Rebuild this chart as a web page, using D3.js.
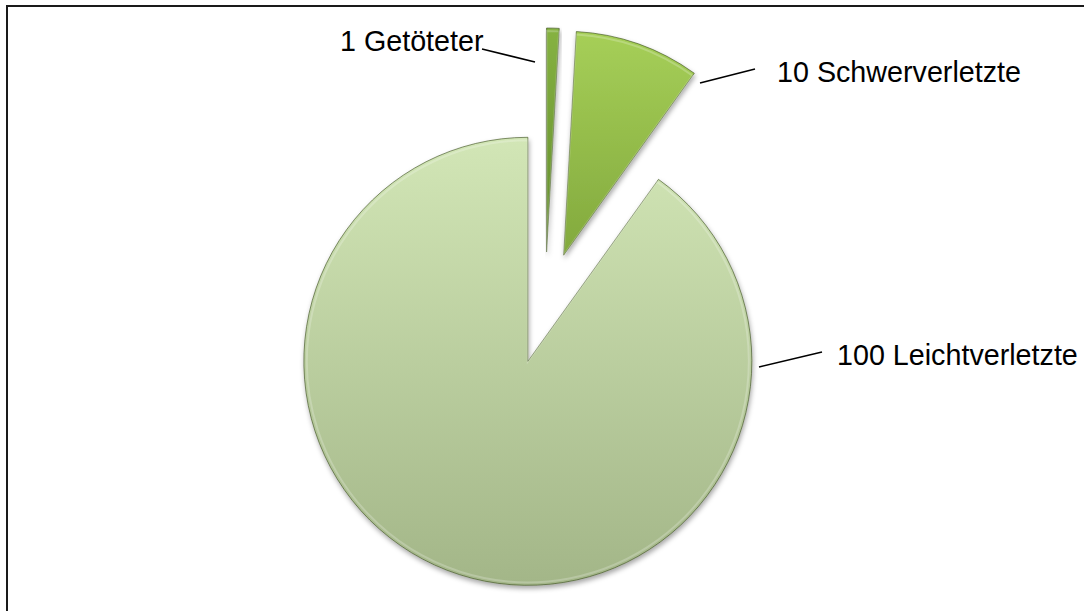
<!DOCTYPE html>
<html>
<head>
<meta charset="utf-8">
<title>Verletzte</title>
<style>
  body { margin: 0; background: #fff; }
  svg { display: block; }
  .lbl { font-family: "Liberation Sans", Arial, sans-serif; font-size: 28.7px; fill: #000; }
</style>
</head>
<body>
<div id="chart"></div>
<script src="https://cdn.jsdelivr.net/npm/d3@7"></script>
<script>
// data
var categories = ["Getöteter", "Schwerverletzte", "Leichtverletzte"];
var values = [1, 10, 100];

// slice colours (top, bottom of gradient)
var topColors = ["#86b242", "#a6cf58", "#d2e6b6"];
var bottomColors = ["#628c2c", "#82a93d", "#a3b688"];

// label placement: text start, baseline, leader line (label end -> pie end)
var labelX = [340, 777, 837];
var labelY = [51, 82, 365];
var leader = [
  [[482, 49], [535, 62]],
  [[755, 69], [700, 83]],
  [[822, 352], [759, 367]]
];

var w = 1084, h = 611;
var cx = 545, cy = 308, r = 224, explode = 56;

var svg = d3.select("#chart").append("svg")
  .attr("width", w).attr("height", h);

var defs = svg.append("defs");

var shadow = defs.append("filter").attr("id", "shadow")
  .attr("x", "-10%").attr("y", "-10%").attr("width", "130%").attr("height", "130%");
shadow.append("feDropShadow")
  .attr("dx", 1).attr("dy", 3).attr("stdDeviation", 2.5)
  .attr("flood-color", "#000").attr("flood-opacity", 0.35);

categories.forEach(function(c, i) {
  var g = defs.append("linearGradient").attr("id", "grad" + i)
    .attr("x1", 0).attr("y1", 0).attr("x2", 0).attr("y2", 1);
  g.append("stop").attr("offset", "0%").attr("stop-color", topColors[i]);
  g.append("stop").attr("offset", "100%").attr("stop-color", bottomColors[i]);
});

// border of the chart area
svg.append("rect")
  .attr("x", 7).attr("y", 6).attr("width", 1200).attr("height", 700)
  .attr("fill", "none").attr("stroke", "#1a1a1a").attr("stroke-width", 2);

var pie = d3.pie().sort(null).startAngle(0).endAngle(2 * Math.PI);
var arcs = pie(values);

var arc = d3.arc().innerRadius(0).outerRadius(r);
var arcIn = d3.arc().innerRadius(0).outerRadius(r - 3);

var g = svg.append("g").attr("transform", "translate(" + cx + "," + cy + ")");

var slice = g.selectAll("g.slice")
  .data(arcs)
  .enter().append("g")
  .attr("class", "slice")
  .attr("transform", function(d) {
    var mid = (d.startAngle + d.endAngle) / 2;
    return "translate(" + (Math.sin(mid) * explode) + "," + (-Math.cos(mid) * explode) + ")";
  });

slice.append("path")
  .attr("d", arc)
  .attr("fill", function(d, i) { return "url(#grad" + i + ")"; })
  .attr("stroke", "rgba(55,75,25,0.6)")
  .attr("stroke-width", 1)
  .attr("stroke-linejoin", "miter")
  .attr("filter", "url(#shadow)");

// soft highlight just inside the edge
slice.append("path")
  .attr("d", arcIn)
  .attr("fill", "none")
  .attr("stroke", "rgba(255,255,255,0.22)")
  .attr("stroke-width", 2);

// labels and leader lines
var lab = svg.append("g");
lab.selectAll("line")
  .data(leader)
  .enter().append("line")
  .attr("x1", function(d) { return d[0][0]; })
  .attr("y1", function(d) { return d[0][1]; })
  .attr("x2", function(d) { return d[1][0]; })
  .attr("y2", function(d) { return d[1][1]; })
  .attr("stroke", "#000").attr("stroke-width", 1.5);

lab.selectAll("text")
  .data(categories)
  .enter().append("text")
  .attr("class", "lbl")
  .attr("x", function(d, i) { return labelX[i]; })
  .attr("y", function(d, i) { return labelY[i]; })
  .text(function(d, i) { return values[i] + " " + d; });
</script>
</body>
</html>
